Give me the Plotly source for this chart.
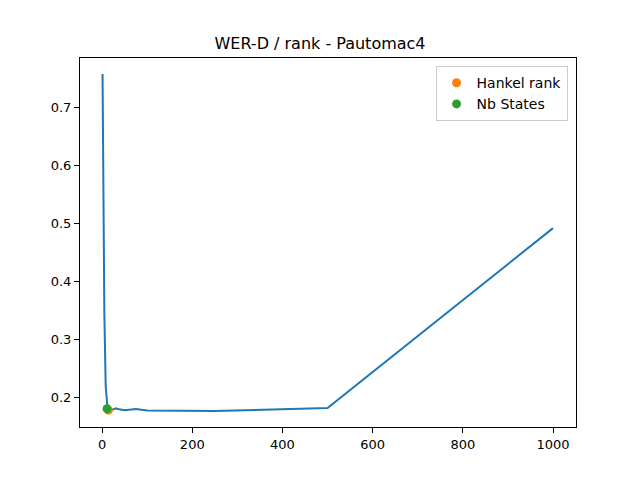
import plotly.graph_objects as go

ranks = [1, 5, 8, 12, 15, 20, 25, 30, 35, 40, 50, 75, 100, 250, 500, 1000]
wer_d = [0.757, 0.345, 0.22, 0.183, 0.180, 0.181, 0.180, 0.182, 0.181, 0.180,
         0.179, 0.181, 0.1785, 0.1775, 0.1825, 0.492]
hankel_rank = [14]
hankel_val = [0.179]
nb_states = [11]
nb_states_val = [0.1815]

font = "DejaVu Sans"
fig = go.Figure()
fig.add_trace(go.Scatter(x=ranks, y=wer_d, mode="lines",
                         line=dict(color="#1f77b4", width=2), showlegend=False))
fig.add_trace(go.Scatter(x=hankel_rank, y=hankel_val, mode="markers", name="Hankel rank",
                         marker=dict(color="#ff7f0e", size=9)))
fig.add_trace(go.Scatter(x=nb_states, y=nb_states_val, mode="markers", name="Nb States",
                         marker=dict(color="#2ca02c", size=9)))

axis_common = dict(showgrid=False, zeroline=False, showline=True, linecolor="black",
                   linewidth=1, mirror=True, ticks="outside", ticklen=5, tickwidth=1,
                   tickcolor="black", tickfont=dict(family=font, size=13, color="black"))
fig.update_layout(
    width=640, height=480,
    margin=dict(l=80, r=64, t=58, b=53),
    plot_bgcolor="white", paper_bgcolor="white",
    title=dict(text="WER-D / rank - Pautomac4", x=0.5, xanchor="center",
               y=1 - 43 / 480, yanchor="middle",
               font=dict(family=font, size=16, color="black")),
    xaxis=dict(range=[-49, 1051], tickvals=[0, 200, 400, 600, 800, 1000], **axis_common),
    yaxis=dict(range=[0.15, 0.7845], tickvals=[0.2, 0.3, 0.4, 0.5, 0.6, 0.7],
               tickformat=".1f", **axis_common),
    legend=dict(x=0.983, y=0.978, xanchor="right", yanchor="top",
                bordercolor="#cccccc", borderwidth=1, bgcolor="white",
                tracegroupgap=0,
                font=dict(family=font, size=14, color="black")),
)
fig.write_html("out.html", config={"displayModeBar": False},
               post_script="document.body.style.margin='0';")
